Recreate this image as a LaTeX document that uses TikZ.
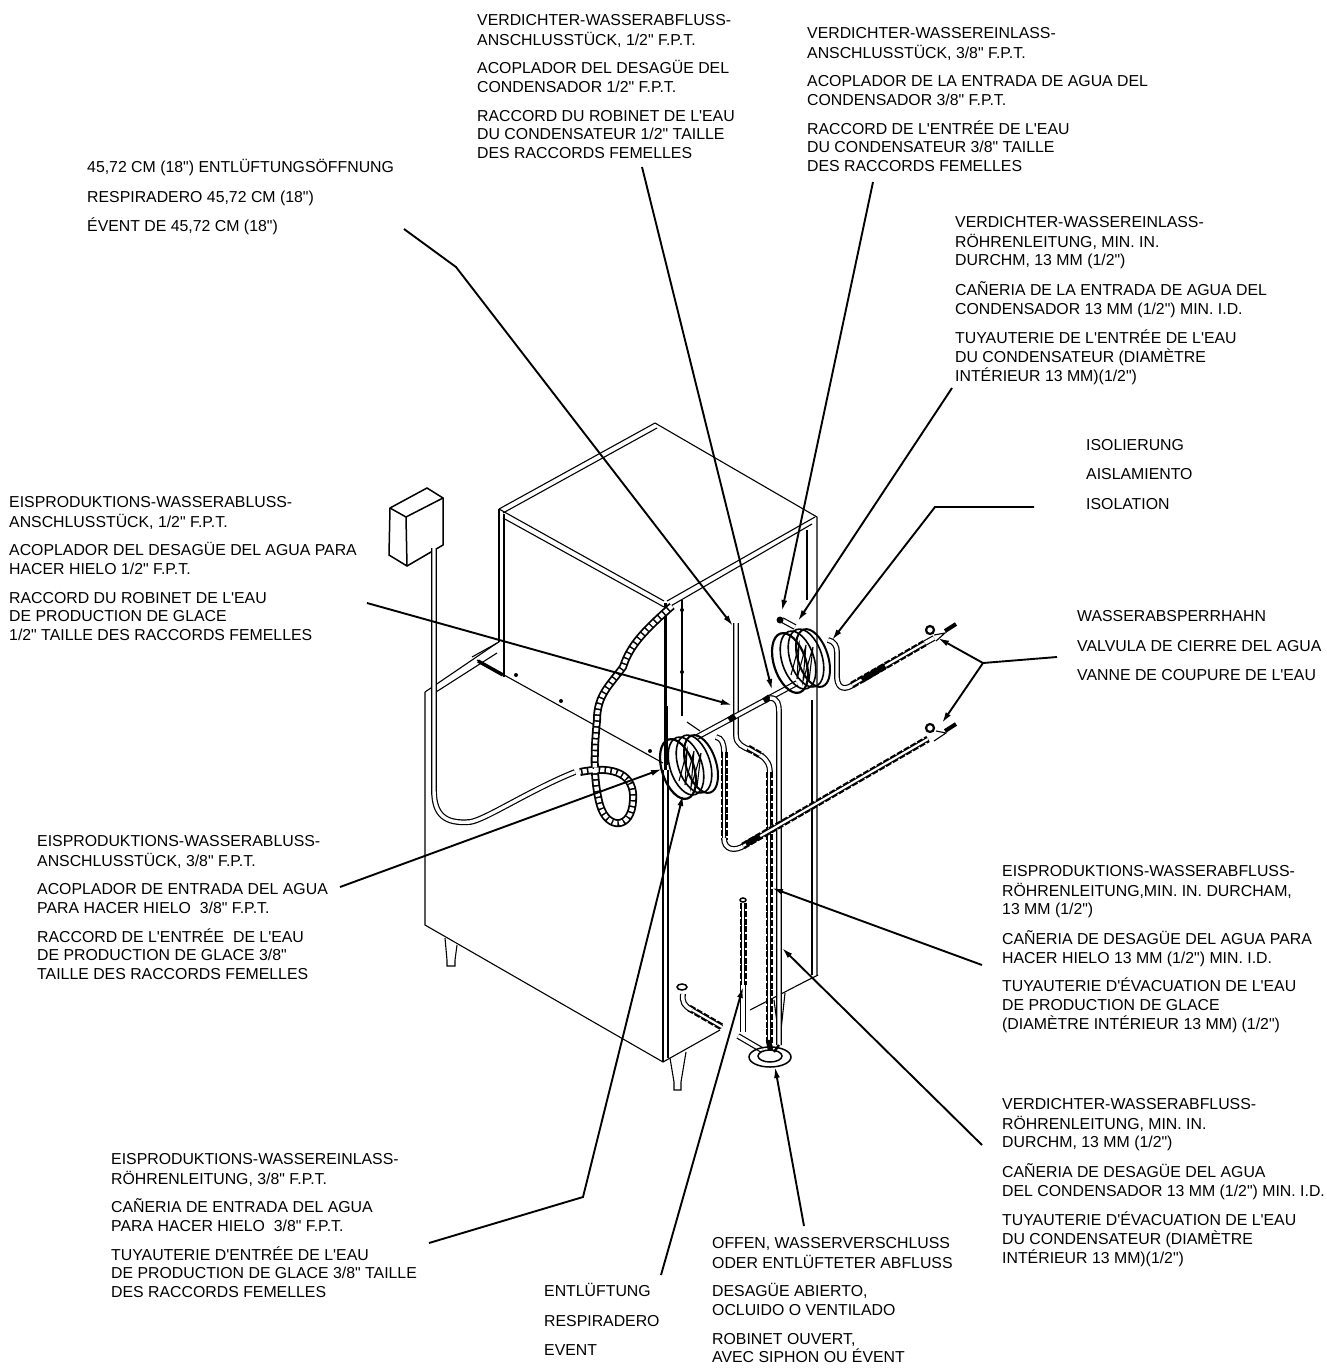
\documentclass[tikz,border=0pt]{standalone}
\usepackage{fontspec}
\newfontfamily\labelfont{Liberation Sans}
\usepgflibrary{arrows.meta}
\tikzset{
	txt/.style={anchor=north west,inner sep=0pt,align=left,font=\labelfont\fontsize{15.85}{18.7}\selectfont},
	leader/.style={line width=1.9pt},
	edge/.style={line width=1.5pt},
	fine/.style={line width=1.1pt},
	pipe/.style={line width=1.2pt,double=white,double distance=3.4pt},
	wrapped/.style={line width=7pt,dash pattern=on 6pt off 1.8pt,postaction={draw,solid,line width=1.1pt,double=white,double distance=2.2pt}},
	hose/.style={line width=8pt,postaction={draw,white,line width=4.4pt,dash pattern=on 4.2pt off 1.7pt}},
	coil/.pic={
		\draw [line width=2.2pt] (-15,2) ellipse [x radius=16,y radius=31,rotate=18];
		\draw [line width=1.6pt] (-7,-1) ellipse [x radius=16,y radius=30,rotate=18];
		\draw [line width=1.6pt] (1,-3) ellipse [x radius=16,y radius=30,rotate=18];
		\draw [line width=2pt] (8,-3) ellipse [x radius=15,y radius=30,rotate=18];
		\draw [fine] (-14,14) -- (-6,-16) -- (-8,18) -- (1,-16) -- (-2,20) -- (8,-14) -- (4,20);
	}
}
\begin{document}
\begin{tikzpicture}[x=1pt,y=-1pt]
	\useasboundingbox (0,0) rectangle (1327,1369);
	% cabinet
	\draw [edge] (390,508) -- (427,488) -- (443,498) -- (443,545) -- (407,566) -- (389,555) -- cycle;
	\draw [edge] (390,508) -- (406,517) -- (443,498) (406,517) -- (407,566);
	\draw [fine] (499,509) -- (655,423) -- (817,517) -- (817,975);
	\draw [fine] (503,513) -- (657,428);
	\draw [fine] (499,509) -- (664,601) (503,518) -- (664,607);
	\draw [fine] (667,601) -- (815,517) (669,607) -- (812,524);
	\draw [fine] (499,509) -- (499,642) (504,514) -- (504,677);
	\draw [fine] (807,530) -- (807,600) (812,700) -- (812,975);
	\draw [fine] (425,692) -- (497,643) (436,692) -- (497,653);
	\draw [fine] (425,692) -- (425,925) -- (663,1062) -- (720,1030);
	\draw [fine] (750,1010) -- (808,980) -- (818,975);
	\draw [line width=3pt] (665,603) -- (665,770);
	\draw [fine] (682,600) -- (682,716);
	\draw [fine] (663,770) -- (663,1062) (668,770) -- (668,1058);
	\draw [fine] (477,660) -- (663,763);
	\draw [line width=3.5pt] (478,661) -- (503,675);
	\draw [fine] (472,657) -- (499,642);
	\foreach \xb/\yb in {516/675,561/701,650/751,682/672,682/610} {
		\fill (\xb,\yb) circle (2);
	}
	% legs
	\draw [fine] (445,938) -- (447,960) -- (447,966) -- (455,966) -- (455,960) -- (457,945);
	\draw [fine] (670,1058) -- (674,1082) -- (674,1090) -- (681,1090) -- (681,1082) -- (686,1052);
	\draw [fine] (774,1000) -- (778,1030) (785,993) -- (781,1030);
	% conduit and hose
	\draw [pipe] (434,548) -- (434,790) .. controls (434,815) and (445,824) .. (470,822) .. controls (485,820) and (530,790) .. (575,772);
	\draw [hose] (672,606) .. controls (645,630) and (630,645) .. (623,667) .. controls (610,685) and (597,695) .. (597,720) .. controls (594,750) and (593,780) .. (600,805) .. controls (607,830) and (632,830) .. (633,800) .. controls (635,775) and (615,765) .. (580,772);
	% water pipes
	\draw [pipe] (736,623) -- (736,735) .. controls (736,745) and (744,747) .. (750,750);
	\draw [wrapped] (748,748) -- (762,756);
	\draw [pipe] (760,755) .. controls (768,760) and (770,765) .. (770,775);
	\draw [wrapped] (769,772) -- (769,1045);
	\draw [pipe] (697,737) -- (797,683);
	\draw [line width=6pt] (729,720) -- (735,716) (764,701) -- (770,697);
	\draw [pipe] (770,698) .. controls (778,698) and (779,705) .. (779,712) -- (779,1045);
	\draw [pipe] (795,627) -- (782,620);
	\fill (780,620) circle (3.5);
	\draw [fine] (687,722) -- (700,731);
	\draw [line width=3pt] (666,706) -- (666,765);
	% tails of the coils
	\draw [pipe] (716,737) .. controls (722,738) and (724,744) .. (724,752);
	\draw [wrapped] (724,752) -- (724,840);
	\draw [pipe] (724,838) .. controls (724,850) and (735,852) .. (745,845);
	\draw [wrapped] (743,846) -- (928,739);
	\draw [line width=6pt] (746,844) -- (760,836);
	\draw [pipe] (828,640) .. controls (834,641) and (837,646) .. (837,652) -- (837,678) .. controls (838,690) and (846,690) .. (854,684);
	\draw [wrapped] (852,685) -- (925,643);
	\draw [line width=6pt] (862,680) -- (885,666);
	% valves
	\draw [pipe] (925,643) -- (934,638);
	\draw [line width=2.2pt] (930,630) circle (4);
	\draw [line width=2.2pt] (930,728) circle (4);
	\draw [fine] (934,635) -- (945,633) -- (936,641);
	\draw [fine] (936,731) -- (946,733) -- (934,741);
	\draw [line width=4pt] (945,631) -- (956,624);
	\draw [line width=4pt] (945,731) -- (956,724);
	% coils
	\pic at (805,661) {coil};
	\pic at (693,767) {coil};
	% drain
	\draw [wrapped] (743,903) -- (743,985);
	\draw [pipe] (743,985) -- (743,1032);
	\draw [edge] (743,900) ellipse (3 and 2);
	\draw [pipe] (738,1036) -- (762,1050);
	\draw [wrapped] (689,1008) -- (722,1027);
	\draw [pipe] (683,994) .. controls (682,1002) and (684,1006) .. (692,1010);
	\draw [edge] (682,987) ellipse (5 and 3);
	\draw [edge] (770,1057) ellipse (21 and 10);
	\draw [edge,fill=white] (770,1056) ellipse (12 and 6);
	\draw [fill] (768,1050) -- (766,1040) -- (771,1040) -- (773,1050) -- cycle;
	\draw [line width=2.4pt] (779,1045) -- (774,1052);
	% leaders
	\coordinate (ventfrom) at (404,229);
	\coordinate (ventbend) at (456,267);
	\coordinate (venttip) at (733,626);
	\coordinate (condoutfrom) at (642,167);
	\coordinate (condouttip) at (772,690);
	\coordinate (condinfrom) at (873,182);
	\coordinate (condintip) at (782,611);
	\coordinate (condpipefrom) at (952,388);
	\coordinate (condpipetip) at (798,621);
	\coordinate (insulfrom) at (1034,507);
	\coordinate (insulbend) at (935,507);
	\coordinate (insultip) at (832,640);
	\coordinate (valvefrom) at (1057,657);
	\coordinate (valvebend) at (983,663);
	\coordinate (valvetipa) at (938,638);
	\coordinate (valvetipb) at (942,723);
	\coordinate (iceoutfrom) at (367,603);
	\coordinate (iceouttip) at (732,705);
	\coordinate (iceinfrom) at (340,887);
	\coordinate (iceintip) at (662,769);
	\coordinate (icepipefrom) at (429,1243);
	\coordinate (icepipebend) at (583,1197);
	\coordinate (icepipetip) at (683,795);
	\coordinate (icedrainfrom) at (982,965);
	\coordinate (icedraintip) at (772,888);
	\coordinate (conddrainfrom) at (982,1145);
	\coordinate (conddraintip) at (782,948);
	\coordinate (airfrom) at (661,1275);
	\coordinate (airtip) at (743,987);
	\coordinate (openfrom) at (804,1226);
	\coordinate (opentip) at (775,1067);
	\foreach \from/\to in {condoutfrom/condouttip,condinfrom/condintip,condpipefrom/condpipetip,iceoutfrom/iceouttip,iceinfrom/iceintip,icedrainfrom/icedraintip,conddrainfrom/conddraintip,airfrom/airtip,openfrom/opentip} {
		\draw [leader][-{Latex[length=11pt,width=6pt]}] (\from) -- (\to);
	}
	\draw [leader][-{Latex[length=11pt,width=6pt]}] (ventfrom) -- (ventbend) -- (venttip);
	\draw [leader][-{Latex[length=11pt,width=6pt]}] (insulfrom) -- (insulbend) -- (insultip);
	\draw [leader][-{Latex[length=11pt,width=6pt]}] (icepipefrom) -- (icepipebend) -- (icepipetip);
	\draw [leader] (valvefrom) -- (valvebend);
	\draw [leader][-{Latex[length=11pt,width=6pt]}] (valvebend) -- (valvetipa);
	\draw [leader][-{Latex[length=11pt,width=6pt]}] (valvebend) -- (valvetipb);
	% labels
	\node [txt] (condoutlabel) at (477,12) {\strut VERDICHTER-WASSERABFLUSS-\\ANSCHLUSSTÜCK, 1/2" F.P.T.\\[10pt]ACOPLADOR DEL DESAGÜE DEL\\CONDENSADOR 1/2" F.P.T.\\[10pt]RACCORD DU ROBINET DE L'EAU\\DU CONDENSATEUR 1/2" TAILLE\\DES RACCORDS FEMELLES};
	\node [txt] (condinlabel) at (807,25) {\strut VERDICHTER-WASSEREINLASS-\\ANSCHLUSSTÜCK, 3/8" F.P.T.\\[10pt]ACOPLADOR DE LA ENTRADA DE AGUA DEL\\CONDENSADOR 3/8" F.P.T.\\[10pt]RACCORD DE L'ENTRÉE DE L'EAU\\DU CONDENSATEUR 3/8" TAILLE\\DES RACCORDS FEMELLES};
	\node [txt] (ventlabel) at (87,159) {\strut 45,72 CM (18") ENTLÜFTUNGSÖFFNUNG\\[11pt]RESPIRADERO 45,72 CM (18")\\[11pt]ÉVENT DE 45,72 CM (18")};
	\node [txt] (condpipelabel) at (955,214) {\strut VERDICHTER-WASSEREINLASS-\\RÖHRENLEITUNG, MIN. IN.\\DURCHM, 13 MM (1/2")\\[11pt]CAÑERIA DE LA ENTRADA DE AGUA DEL\\CONDENSADOR 13 MM (1/2") MIN. I.D.\\[11pt]TUYAUTERIE DE L'ENTRÉE DE L'EAU\\DU CONDENSATEUR (DIAMÈTRE\\INTÉRIEUR 13 MM)(1/2")};
	\node [txt] (insullabel) at (1086,437) {\strut ISOLIERUNG\\[11pt]AISLAMIENTO\\[11pt]ISOLATION};
	\node [txt] (valvelabel) at (1077,608) {\strut WASSERABSPERRHAHN\\[11pt]VALVULA DE CIERRE DEL AGUA\\[11pt]VANNE DE COUPURE DE L'EAU};
	\node [txt] (iceoutlabel) at (9,494) {\strut EISPRODUKTIONS-WASSERABLUSS-\\ANSCHLUSSTÜCK, 1/2" F.P.T.\\[10pt]ACOPLADOR DEL DESAGÜE DEL AGUA PARA\\HACER HIELO 1/2" F.P.T.\\[10pt]RACCORD DU ROBINET DE L'EAU\\DE PRODUCTION DE GLACE\\1/2" TAILLE DES RACCORDS FEMELLES};
	\node [txt] (iceinlabel) at (37,833) {\strut EISPRODUKTIONS-WASSERABLUSS-\\ANSCHLUSSTÜCK, 3/8" F.P.T.\\[10pt]ACOPLADOR DE ENTRADA DEL AGUA\\PARA HACER HIELO~~3/8" F.P.T.\\[10pt]RACCORD DE L'ENTRÉE~~DE L'EAU\\DE PRODUCTION DE GLACE 3/8"\\TAILLE DES RACCORDS FEMELLES};
	\node [txt] (icedrainlabel) at (1002,863) {\strut EISPRODUKTIONS-WASSERABFLUSS-\\RÖHRENLEITUNG,MIN. IN. DURCHAM,\\13 MM (1/2")\\[11pt]CAÑERIA DE DESAGÜE DEL AGUA PARA\\HACER HIELO 13 MM (1/2") MIN. I.D.\\[10pt]TUYAUTERIE D'ÉVACUATION DE L'EAU\\DE PRODUCTION DE GLACE\\(DIAMÈTRE INTÉRIEUR 13 MM) (1/2")};
	\node [txt] (conddrainlabel) at (1002,1096) {\strut VERDICHTER-WASSERABFLUSS-\\RÖHRENLEITUNG, MIN. IN.\\DURCHM, 13 MM (1/2")\\[11pt]CAÑERIA DE DESAGÜE DEL AGUA\\DEL CONDENSADOR 13 MM (1/2") MIN. I.D.\\[11pt]TUYAUTERIE D'ÉVACUATION DE L'EAU\\DU CONDENSATEUR (DIAMÈTRE\\INTÉRIEUR 13 MM)(1/2")};
	\node [txt] (icepipelabel) at (111,1151) {\strut EISPRODUKTIONS-WASSEREINLASS-\\RÖHRENLEITUNG, 3/8" F.P.T.\\[10pt]CAÑERIA DE ENTRADA DEL AGUA\\PARA HACER HIELO~~3/8" F.P.T.\\[10pt]TUYAUTERIE D'ENTRÉE DE L'EAU\\DE PRODUCTION DE GLACE 3/8" TAILLE\\DES RACCORDS FEMELLES};
	\node [txt] (airlabel) at (544,1283) {\strut ENTLÜFTUNG\\[11pt]RESPIRADERO\\[11pt]EVENT};
	\node [txt] (openlabel) at (712,1235) {\strut OFFEN, WASSERVERSCHLUSS\\ODER ENTLÜFTETER ABFLUSS\\[10pt]DESAGÜE ABIERTO,\\OCLUIDO O VENTILADO\\[10pt]ROBINET OUVERT,\\AVEC SIPHON OU ÉVENT};
\end{tikzpicture}
\end{document}
